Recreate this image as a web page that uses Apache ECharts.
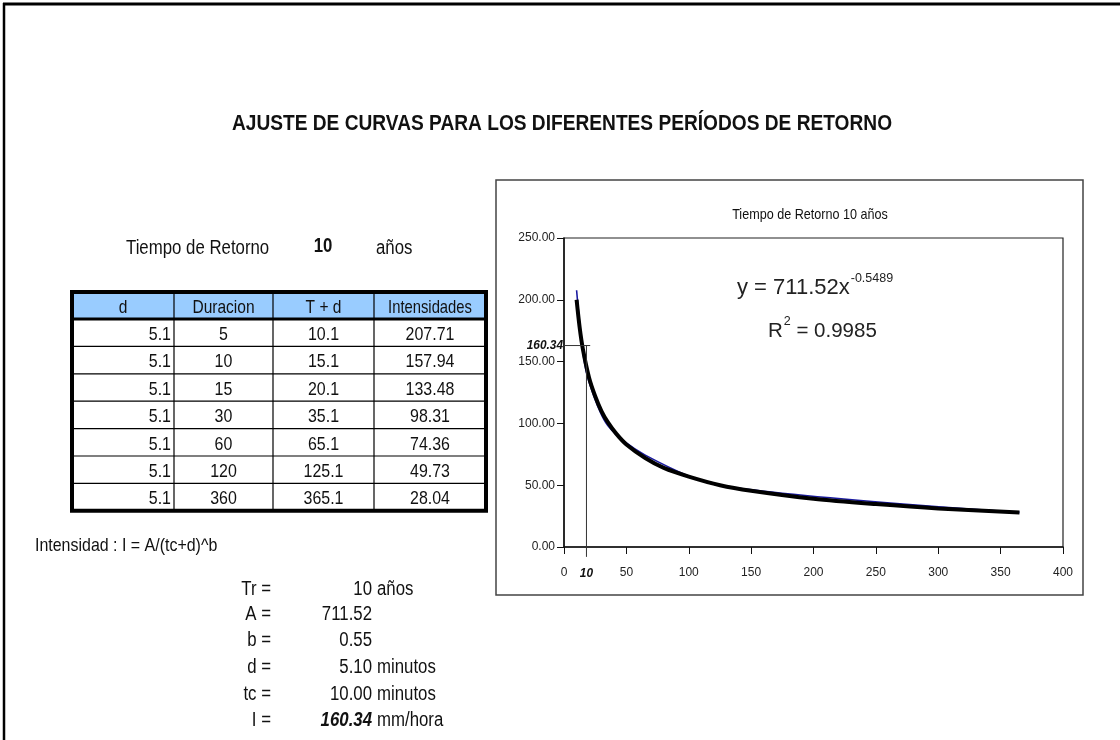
<!DOCTYPE html>
<html>
<head>
<meta charset="utf-8">
<title>Ajuste de curvas</title>
<script src="https://cdn.jsdelivr.net/npm/echarts@6/dist/echarts.min.js"></script>
<style>
  html, body { margin: 0; padding: 0; background: #fff; }
  #chart { width: 1120px; height: 740px; }
</style>
</head>
<body>
<div id="chart"></div>
<script>
// tabla de intensidades, Tr = 10 años
const colD = [5.1, 5.1, 5.1, 5.1, 5.1, 5.1, 5.1];
const duracion = [5, 10, 15, 30, 60, 120, 360];
const tMasD = [10.1, 15.1, 20.1, 35.1, 65.1, 125.1, 365.1];
const intensidades = [207.71, 157.94, 133.48, 98.31, 74.36, 49.73, 28.04];
const headers = ["d", "Duracion", "T + d", "Intensidades"];

// linea de tendencia potencial
const trendX = [10.1, 12.5, 15.1, 20.1, 25, 30, 35.1, 42, 50, 65.1, 80, 100, 125.1, 150, 200, 250, 300, 365.1];
const trendY = [200, 178, 160.3, 137, 122, 110, 101, 91.5, 83, 72, 64, 57, 50, 45.5, 39, 34.7, 31.2, 28];

// marca del punto de diseño
const tcLabel = "10";
const iLabel = "160.34";
const markX = 18;
const markY = 163;

const xTicks = [0, 50, 100, 150, 200, 250, 300, 350, 400];
const yTicks = [0, 50, 100, 150, 200, 250];

const params = [
  ["Tr =", "10", "años"],
  ["A =", "711.52", ""],
  ["b =", "0.55", ""],
  ["d =", "5.10", "minutos"],
  ["tc =", "10.00", "minutos"],
  ["I =", "160.34", "mm/hora"],
];

const FONT = '"Liberation Sans", Arial, sans-serif';
const measureCtx = document.createElement("canvas").getContext("2d");

function fontStr(o) {
  return (o.italic ? "italic " : "") + (o.bold ? "bold " : "") + (o.size || 16) + "px " + FONT;
}
function textW(s, o) {
  measureCtx.font = fontStr(o);
  return measureCtx.measureText(s).width * (o.sx || 0.84);
}
function txt(x, y, s, o) {
  o = o || {};
  return {
    type: "text",
    x: x,
    y: y,
    scaleX: o.sx || 0.84,
    z: 20,
    silent: true,
    style: {
      text: s,
      x: 0,
      y: 0,
      fill: o.fill || "#111",
      font: fontStr(o),
      align: o.align || "left",
      verticalAlign: "middle",
    },
  };
}
function ln(x1, y1, x2, y2, w, c) {
  return {
    type: "line",
    z: 15,
    silent: true,
    shape: { x1: x1, y1: y1, x2: x2, y2: y2 },
    style: { stroke: c || "#000", lineWidth: w || 1 },
  };
}

const graphic = [];
// marco de la hoja
graphic.push(ln(3, 4, 1120, 4, 3));
graphic.push(ln(4, 3, 4, 740, 2.5));

graphic.push(txt(562, 124, "AJUSTE DE CURVAS PARA LOS DIFERENTES PERÍODOS DE RETORNO", { size: 22, bold: true, align: "center", sx: 0.87 }));

// marco del grafico
graphic.push({
  type: "rect",
  z: 1,
  silent: true,
  shape: { x: 496, y: 180, width: 587, height: 415 },
  style: { fill: "none", stroke: "#444", lineWidth: 1.5 },
});
graphic.push(txt(810, 215, "Tiempo de Retorno 10 años", { size: 15, align: "center" }));

// ecuacion de la tendencia
const eqO = { size: 22, fill: "#222", sx: 1 };
const supO = { size: 12.5, fill: "#222", sx: 1 };
const rO = { size: 20.5, fill: "#222", sx: 1 };
const eqMain = "y = 711.52x";
graphic.push(txt(737, 288, eqMain, eqO));
graphic.push(txt(737 + textW(eqMain, eqO) + 1, 279, "-0.5489", supO));
graphic.push(txt(768, 331, "R", rO));
const rW = textW("R", rO);
graphic.push(txt(768 + rW + 1, 322, "2", supO));
graphic.push(txt(768 + rW + 1 + textW("2", supO), 331, " = 0.9985", rO));

// encabezado izquierdo
graphic.push(txt(126, 248, "Tiempo de Retorno", { size: 20 }));
graphic.push(txt(323, 246, "10", { size: 20, bold: true, align: "center" }));
graphic.push(txt(376, 248, "años", { size: 20 }));

// tabla
const tx = [72, 174, 273, 374, 486];
const headTop = 292, headBot = 319, rowH = 27.4;
graphic.push({
  type: "rect", z: 5, silent: true,
  shape: { x: tx[0], y: headTop, width: tx[4] - tx[0], height: headBot - headTop },
  style: { fill: "#99ccff" },
});
for (let c = 0; c < headers.length; c++) {
  const cx = (tx[c] + tx[c + 1]) / 2;
  graphic.push(txt(cx, (headTop + headBot) / 2 + 2, headers[c], { size: 18.5, align: "center", sx: c === 3 ? 0.8 : 0.84 }));
}
for (let r = 0; r < intensidades.length; r++) {
  const cy = headBot + rowH * r + rowH / 2 + 2;
  const o = { size: 19, align: "center" };
  graphic.push(txt(tx[1] - 3, cy, colD[r].toFixed(1), { size: 19, align: "right" }));
  graphic.push(txt((tx[1] + tx[2]) / 2, cy, String(duracion[r]), o));
  graphic.push(txt((tx[2] + tx[3]) / 2, cy, tMasD[r].toFixed(1), o));
  graphic.push(txt((tx[3] + tx[4]) / 2, cy, intensidades[r].toFixed(2), o));
  if (r > 0) graphic.push(ln(tx[0], headBot + rowH * r, tx[4], headBot + rowH * r, 1.2));
}
const tableBot = headBot + rowH * intensidades.length;
for (let c = 1; c < 4; c++) graphic.push(ln(tx[c], headTop, tx[c], tableBot, 1.2));
graphic.push(ln(tx[0], headBot, tx[4], headBot, 3));
graphic.push({
  type: "rect", z: 16, silent: true,
  shape: { x: tx[0], y: headTop, width: tx[4] - tx[0], height: tableBot - headTop },
  style: { fill: "none", stroke: "#000", lineWidth: 4 },
});

// formula y parametros
graphic.push(txt(35, 546, "Intensidad : I = A/(tc+d)^b", { size: 19 }));
const py = [589, 614, 640, 667, 694, 720];
params.forEach((p, i) => {
  graphic.push(txt(271, py[i], p[0], { size: 20, align: "right" }));
  const last = i === params.length - 1;
  graphic.push(txt(372, py[i], p[1], { size: 20, align: "right", bold: last, italic: last }));
  if (p[2]) graphic.push(txt(377, py[i], p[2], { size: 20 }));
});

const chart = echarts.init(document.getElementById("chart"), null, { renderer: "canvas" });

const axisText = { color: "#222", fontSize: 12, fontFamily: FONT };

const option = {
  animation: false,
  backgroundColor: "#fff",
  grid: {
    left: 564, top: 238, right: 57, bottom: 193,
    show: true, borderColor: "#222", borderWidth: 1.2, backgroundColor: "transparent",
  },
  xAxis: {
    type: "value",
    min: xTicks[0], max: xTicks[xTicks.length - 1], interval: 50,
    axisLine: { show: true, onZero: false, lineStyle: { color: "#111", width: 1.5 } },
    axisTick: { show: true, inside: false, length: 7, lineStyle: { color: "#111" } },
    axisLabel: Object.assign({ margin: 20 }, axisText),
    splitLine: { show: false },
  },
  yAxis: {
    type: "value",
    min: yTicks[0], max: yTicks[yTicks.length - 1], interval: 50,
    axisLine: { show: true, onZero: false, lineStyle: { color: "#111", width: 1.5 } },
    axisTick: { show: true, inside: false, length: 7, lineStyle: { color: "#111" } },
    axisLabel: Object.assign({ margin: 9, formatter: (v) => v.toFixed(2) }, axisText),
    splitLine: { show: false },
  },
  series: [
    {
      name: "Intensidades",
      type: "line",
      data: tMasD.map((x, i) => [x, intensidades[i]]),
      smooth: 0.3,
      showSymbol: false,
      lineStyle: { color: "#1a1aa0", width: 1.6 },
      z: 2,
    },
    {
      name: "Potencial",
      type: "line",
      data: trendX.map((x, i) => [x, trendY[i]]),
      smooth: 0.3,
      showSymbol: false,
      lineStyle: { color: "#000", width: 4 },
      z: 3,
    },
    {
      name: "I diseño",
      type: "line",
      data: [[0, markY], [21, markY]],
      showSymbol: false,
      clip: false,
      lineStyle: { color: "#333", width: 1 },
      z: 4,
    },
    {
      name: "tc",
      type: "line",
      data: [[markX, markY], [markX, -8]],
      showSymbol: false,
      clip: false,
      lineStyle: { color: "#333", width: 1 },
      z: 4,
    },
  ],
  graphic: graphic,
};
chart.setOption(option);

// rotulos de la marca, colocados con la escala del grafico
const pI = chart.convertToPixel({ gridIndex: 0 }, [0, markY]);
const pT = chart.convertToPixel({ gridIndex: 0 }, [markX, 0]);
const markO = { size: 12.5, bold: true, italic: true, sx: 0.95 };
graphic.push(txt(pI[0] - 1, pI[1], iLabel, Object.assign({ align: "right" }, markO)));
graphic.push(txt(pT[0], pT[1] + 27, tcLabel, Object.assign({ align: "center" }, markO)));
chart.setOption({ graphic: graphic }, { replaceMerge: ["graphic"] });
</script>
</body>
</html>
